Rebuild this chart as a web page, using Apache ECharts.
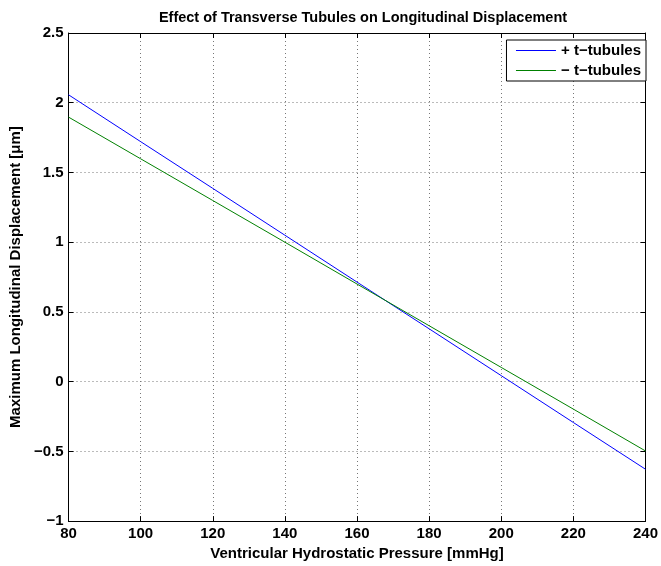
<!DOCTYPE html>
<html>
<head>
<meta charset="utf-8">
<script src="https://cdn.jsdelivr.net/npm/echarts@6/dist/echarts.min.js"></script>
<style>
  html, body { margin: 0; padding: 0; background: #fff; }
  #chart { width: 661px; height: 566px; }
</style>
</head>
<body>
<div id="chart"></div>
<script>
const pressure = [80, 100, 120, 140, 160, 180, 200, 220, 240];
const withTubules = [2.057, 1.721, 1.386, 1.050, 0.714, 0.379, 0.043, -0.293, -0.628];
const withoutTubules = [1.897, 1.598, 1.299, 1.000, 0.700, 0.401, 0.102, -0.197, -0.497];
const seriesNames = ['+ t\u2212tubules', '\u2212 t\u2212tubules'];

const FONT = 'Liberation Sans, Arial, Helvetica, sans-serif';
const gridLine = { show: true, lineStyle: { color: '#777', type: [1, 3], width: 1 } };
const labelStyle = { color: '#000', fontFamily: FONT, fontWeight: 'bold', fontSize: 15 };
const boxLine = { show: true, onZero: false, lineStyle: { color: '#000', width: 1 } };
const boxTick = { show: true, inside: true, length: 5, lineStyle: { color: '#000' } };

function fmt(v) {
  return String(v).replace('-', '\u2212');
}

const chart = echarts.init(document.getElementById('chart'));

chart.setOption({
  animation: false,
  title: {
    text: 'Effect of Transverse Tubules on Longitudinal Displacement',
    left: 358,
    textAlign: 'center',
    top: 5,
    textStyle: { fontFamily: FONT, fontWeight: 'bold', fontSize: 14.5, color: '#000' }
  },
  legend: {
    orient: 'vertical',
    right: 15,
    top: 40,
    itemWidth: 40,
    itemHeight: 14,
    itemGap: 5,
    padding: [3, 5, 3, 9],
    borderColor: '#000',
    borderWidth: 1,
    backgroundColor: '#fff',
    itemStyle: { opacity: 0 },
    lineStyle: { width: 1 },
    textStyle: labelStyle,
    data: seriesNames
  },
  grid: { left: 68, right: 13, top: 33, bottom: 41, containLabel: false },
  xAxis: [
    {
      type: 'value',
      min: 80,
      max: 240,
      interval: 20,
      name: 'Ventricular Hydrostatic Pressure [mmHg]',
      nameLocation: 'middle',
      nameGap: 23,
      nameTextStyle: labelStyle,
      axisLine: boxLine,
      axisTick: boxTick,
      axisLabel: Object.assign({ margin: 5, formatter: fmt }, labelStyle),
      splitLine: gridLine
    },
    {
      type: 'value',
      position: 'top',
      min: 80,
      max: 240,
      interval: 20,
      axisLine: boxLine,
      axisTick: boxTick,
      axisLabel: { show: false },
      splitLine: { show: false }
    }
  ],
  yAxis: [
    {
      type: 'value',
      min: -1,
      max: 2.5,
      interval: 0.5,
      name: 'Maximum Longitudinal Displacement [\u03bcm]',
      nameLocation: 'middle',
      nameGap: 44,
      nameTextStyle: labelStyle,
      axisLine: boxLine,
      axisTick: boxTick,
      axisLabel: Object.assign({ margin: 5, formatter: fmt }, labelStyle),
      splitLine: gridLine
    },
    {
      type: 'value',
      position: 'right',
      min: -1,
      max: 2.5,
      interval: 0.5,
      axisLine: boxLine,
      axisTick: boxTick,
      axisLabel: { show: false },
      splitLine: { show: false }
    }
  ],
  series: [
    {
      name: seriesNames[0],
      type: 'line',
      symbol: 'none',
      color: '#0000ff',
      lineStyle: { color: '#0000ff', width: 1 },
      data: pressure.map((p, i) => [p, withTubules[i]])
    },
    {
      name: seriesNames[1],
      type: 'line',
      symbol: 'none',
      color: '#008000',
      lineStyle: { color: '#008000', width: 1 },
      data: pressure.map((p, i) => [p, withoutTubules[i]])
    }
  ]
});
</script>
</body>
</html>
